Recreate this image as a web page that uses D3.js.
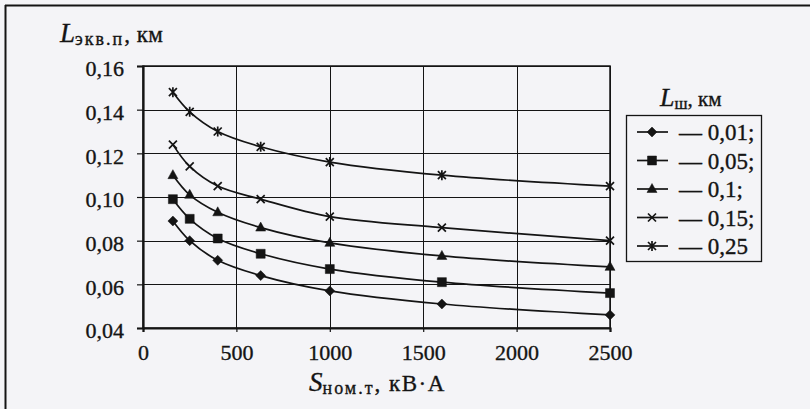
<!DOCTYPE html>
<html>
<head>
<meta charset="utf-8">
<script src="https://cdn.jsdelivr.net/npm/d3@7"></script>
<style>
  html, body { margin: 0; padding: 0; background: #f4f4f7; }
  svg { display: block; }
  text { font-family: "Liberation Serif", "DejaVu Serif", serif; fill: #141414; stroke: #141414; stroke-width: 0.35px; }
</style>
</head>
<body>
<svg id="chart" width="810" height="409"></svg>
<script>
// Transformer rated power, kVA
const sizes = [160, 250, 400, 630, 1000, 1600, 2500];
// Busbar length, km (legend labels)
const busLabels = ["0,01;", "0,05;", "0,1;", "0,15;", "0,25"];
// Equivalent line length, km, for each busbar length
const l001 = [0.089, 0.080, 0.071, 0.064, 0.057, 0.051, 0.046];
const l005 = [0.099, 0.090, 0.081, 0.074, 0.067, 0.061, 0.056];
const l010 = [0.110, 0.101, 0.093, 0.086, 0.079, 0.073, 0.068];
const l015 = [0.124, 0.114, 0.105, 0.099, 0.091, 0.086, 0.080];
const l025 = [0.148, 0.139, 0.130, 0.123, 0.116, 0.110, 0.105];
// Axis ticks
const xTicks = [0, 500, 1000, 1500, 2000, 2500];
const yTicks = [0.04, 0.06, 0.08, 0.10, 0.12, 0.14, 0.16];

const series = [
  { label: busLabels[0], values: l001, marker: "diamond" },
  { label: busLabels[1], values: l005, marker: "square" },
  { label: busLabels[2], values: l010, marker: "triangle" },
  { label: busLabels[3], values: l015, marker: "x" },
  { label: busLabels[4], values: l025, marker: "star" }
];

const svg = d3.select("#chart");
const ink = "#141414";

// page frame (top and left rules)
svg.append("line").attr("x1", 5).attr("x2", 810).attr("y1", 5.5).attr("y2", 5.5)
  .attr("stroke", ink).attr("stroke-width", 2);
svg.append("line").attr("x1", 5.5).attr("x2", 5.5).attr("y1", 5).attr("y2", 409)
  .attr("stroke", ink).attr("stroke-width", 2);

const x = d3.scaleLinear().domain([0, 2500]).range([143, 610]);
const y = d3.scaleLinear().domain([0.04, 0.16]).range([328, 66]);

const comma = d => d3.format(".2f")(d).replace(".", ",");

// grid
const grid = svg.append("g").attr("stroke", ink).attr("stroke-width", 1);
grid.selectAll(".gy").data(yTicks).join("line")
  .attr("x1", x(0)).attr("x2", x(2500))
  .attr("y1", d => Math.round(y(d)) + 0.5).attr("y2", d => Math.round(y(d)) + 0.5);
grid.selectAll(".gx").data(xTicks).join("line")
  .attr("x1", d => Math.round(x(d)) + 0.5).attr("x2", d => Math.round(x(d)) + 0.5)
  .attr("y1", y(0.16)).attr("y2", y(0.04));
// plot frame top and right
svg.append("rect").attr("x", x(0)).attr("y", y(0.16))
  .attr("width", x(2500) - x(0)).attr("height", y(0.04) - y(0.16))
  .attr("fill", "none").attr("stroke", ink).attr("stroke-width", 1.5);

// axes
const yAxis = svg.append("g").attr("transform", `translate(${x(0)},0)`)
  .call(d3.axisLeft(y).tickValues(yTicks).tickFormat(comma).tickSize(6).tickPadding(13));
const xAxis = svg.append("g").attr("transform", `translate(0,${y(0.04)})`)
  .call(d3.axisBottom(x).tickValues(xTicks).tickFormat(d3.format("d")).tickSize(4).tickPadding(12));
[yAxis, xAxis].forEach(a => {
  a.select(".domain").attr("stroke", ink).attr("stroke-width", 2.2);
  a.selectAll(".tick line").attr("stroke", ink).attr("stroke-width", 1.2);
  a.selectAll(".tick text").attr("font-size", 22).attr("fill", ink)
    .style("font-family", "Liberation Serif");
});
yAxis.selectAll(".tick text").attr("dy", "0.45em");

// marker shapes
function markerPath(kind) {
  switch (kind) {
    case "diamond": return "M0,-5L5,0L0,5L-5,0Z";
    case "square": return "M-4.5,-4.5H4.5V4.5H-4.5Z";
    case "triangle": return "M0,-5.5L5,3.5L-5,3.5Z";
    case "x": return "M-4,-4L4,4M-4,4L4,-4";
    case "star": return "M-4,-4L4,4M-4,4L4,-4M0,-5L0,5";
  }
}
function drawMarker(sel, kind) {
  const filled = kind === "diamond" || kind === "square" || kind === "triangle";
  sel.append("path").attr("d", markerPath(kind))
    .attr("fill", filled ? ink : "none")
    .attr("stroke", ink).attr("stroke-width", filled ? 0.5 : 1.7);
}

const line = d3.line()
  .x((d, i) => x(sizes[i]))
  .y(d => y(d))
  .curve(d3.curveCatmullRom.alpha(0.5));

const plot = svg.append("g");
series.forEach(s => {
  plot.append("path").attr("d", line(s.values))
    .attr("fill", "none").attr("stroke", ink).attr("stroke-width", 1.7);
  s.values.forEach((v, i) => {
    const g = plot.append("g").attr("transform", `translate(${x(sizes[i])},${y(v)})`);
    drawMarker(g, s.marker);
  });
});

// axis titles
const yt = svg.append("text").attr("x", 60).attr("y", 42);
yt.append("tspan").attr("font-size", 27).attr("font-style", "italic").text("L");
yt.append("tspan").attr("font-size", 18).attr("dy", 3).attr("letter-spacing", 2).text("экв.п");
yt.append("tspan").attr("font-size", 23).attr("dy", -3).attr("letter-spacing", 0.5).text(", км");

const xt = svg.append("text").attr("x", 309).attr("y", 391);
xt.append("tspan").attr("font-size", 27).attr("font-style", "italic").text("S");
xt.append("tspan").attr("font-size", 18).attr("dy", 3).attr("letter-spacing", 2).text("ном.т");
xt.append("tspan").attr("font-size", 23).attr("dy", -3).attr("letter-spacing", 1.5).text(", кВ\u00B7А");

// legend
const lt = svg.append("text").attr("x", 660).attr("y", 106);
lt.append("tspan").attr("font-size", 26).attr("font-style", "italic").text("L");
lt.append("tspan").attr("font-size", 17).attr("dy", 3).text("ш");
lt.append("tspan").attr("font-size", 21).attr("dy", -3).text(", км");

svg.append("rect").attr("x", 626.5).attr("y", 115.5).attr("width", 135).attr("height", 146)
  .attr("fill", "none").attr("stroke", ink).attr("stroke-width", 1.3);

const rowY = d3.scalePoint().domain(series.map(s => s.label)).range([132, 246]);
series.forEach(s => {
  const g = svg.append("g").attr("transform", `translate(0,${rowY(s.label)})`);
  g.append("line").attr("x1", 637).attr("x2", 668).attr("stroke", ink).attr("stroke-width", 1.7);
  const m = g.append("g").attr("transform", "translate(652,0)");
  drawMarker(m, s.marker);
  g.append("text").attr("x", 679).attr("y", 8).attr("font-size", 23).text("\u2014 " + s.label);
});
</script>
</body>
</html>
